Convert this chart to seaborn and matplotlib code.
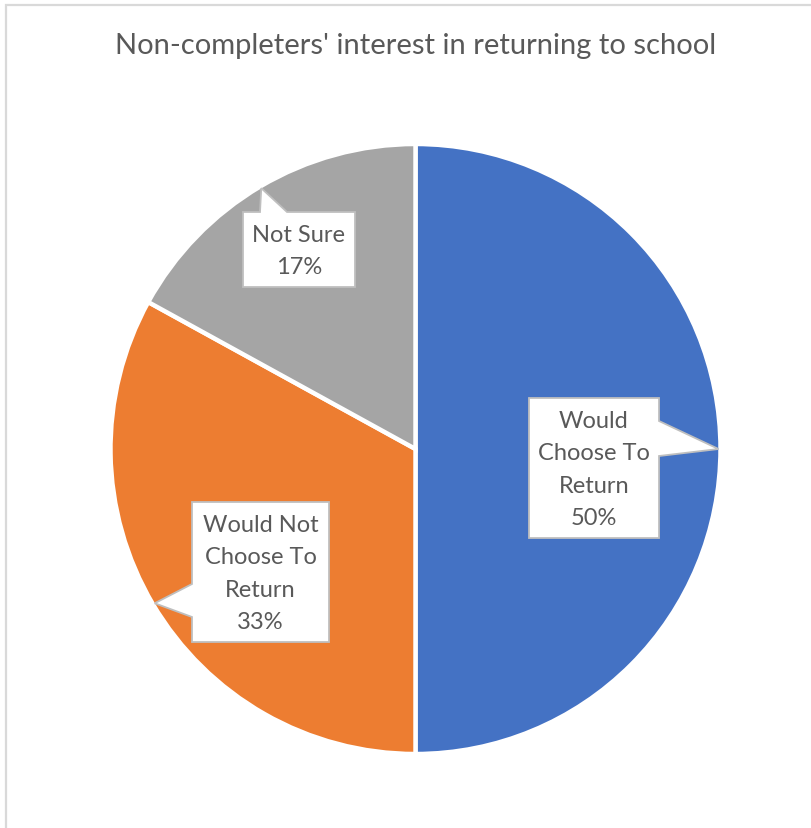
import matplotlib
matplotlib.use("Agg")
import matplotlib.pyplot as plt
import numpy as np
import seaborn as sns
from matplotlib.patches import Polygon, Rectangle

sns.set_theme(style="white")
plt.rcParams["font.family"] = ["Lato", "DejaVu Sans"]

# Survey shares
categories = ["Would Choose To Return", "Would Not Choose To Return", "Not Sure"]
shares = [50, 33, 17]
label_lines = ["Would\nChoose To\nReturn", "Would Not\nChoose To\nReturn", "Not Sure"]
colors = ["#4472C4", "#ED7D31", "#A5A5A5"]

W, H, DPI = 812, 829, 100
fig = plt.figure(figsize=(W / DPI, H / DPI), dpi=DPI)
fig.patch.set_facecolor("white")
ax = fig.add_axes([0, 0, 1, 1])
ax.set_xlim(0, W)
ax.set_ylim(0, H)
ax.set_aspect("equal")
ax.axis("off")

# Chart-area frame
ax.add_patch(Rectangle((6.5, -20), W + 40, H - 6 + 20, fill=False,
                       edgecolor="#D9D9D9", linewidth=1.6, zorder=0))

cx, cy, R = 415.5, H - 450, 305
wedges, _ = ax.pie(shares, colors=colors, startangle=90, counterclock=False,
                   center=(cx, cy), radius=R,
                   wedgeprops=dict(edgecolor="white", linewidth=3.2))
ax.set_xlim(0, W)
ax.set_ylim(0, H)

ax.text(W / 2 + 10, H - 46, "Non-completers' interest in returning to school",
        ha="center", va="center", fontsize=21, color="#595959")

# Callout boxes: (left, top, right, bottom) in pixel rows, pointer side
boxes = [
    ((529, 399, 659, 539), "right", (422, 457)),
    ((192, 503, 329, 643), "left", (585, 618)),
    ((243, 213, 355, 288), "top", (260, 287)),
]

for w, share, lines, (box, side, (a, b)) in zip(wedges, shares, label_lines, boxes):
    mid = np.deg2rad((w.theta1 + w.theta2) / 2)
    r_vis = R - 2
    tip = (cx + r_vis * np.cos(mid), cy + r_vis * np.sin(mid))
    l, t, r, btm = box
    t, btm = H - t, H - btm
    if side == "right":
        pts = [(l, t), (r, t), (r, H - a), tip, (r, H - b), (r, btm), (l, btm)]
    elif side == "left":
        pts = [(l, t), (r, t), (r, btm), (l, btm), (l, H - b), tip, (l, H - a)]
    else:
        pts = [(l, t), (a, t), tip, (b, t), (r, t), (r, btm), (l, btm)]
    ax.add_patch(Polygon(pts, closed=True, facecolor="white", edgecolor="#BFBFBF",
                         linewidth=1.3, joinstyle="miter", zorder=5))
    ax.text((l + r) / 2, (t + btm) / 2 - 1, f"{lines}\n{share}%", ha="center", va="center",
            fontsize=17, color="#595959", linespacing=1.66, zorder=6)

fig.savefig("out.png", dpi=DPI, facecolor="white")
